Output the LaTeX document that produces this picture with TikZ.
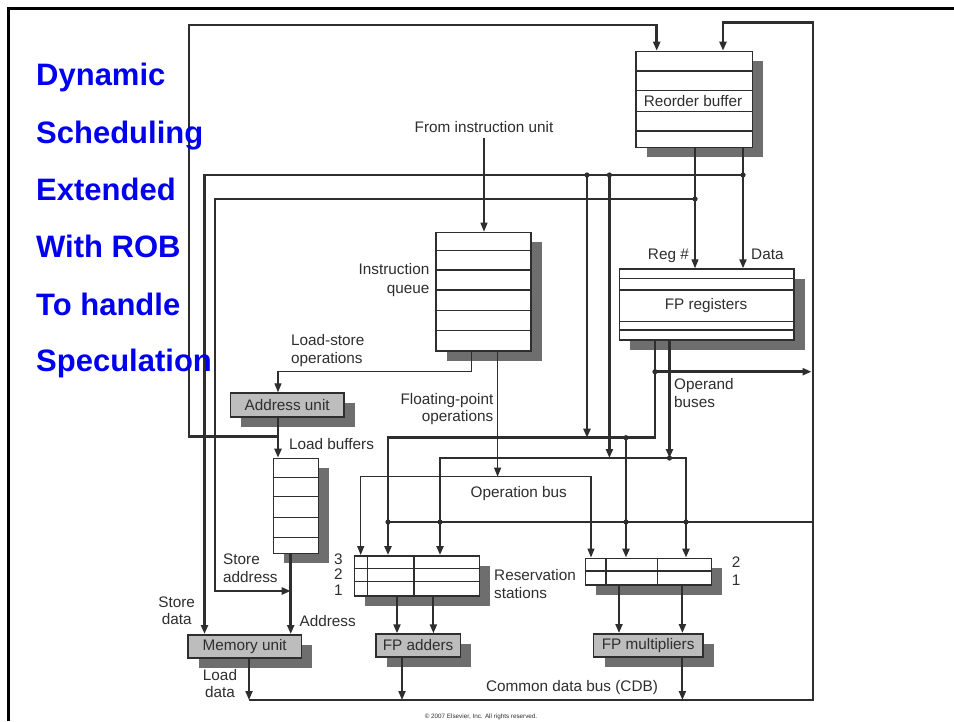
\documentclass[tikz,border=0pt]{standalone}
\usepackage{fontspec}
\setmainfont{Liberation Sans}
\usetikzlibrary{arrows.meta,shadows}
\definecolor{ink}{HTML}{2E2E2E}
\definecolor{shade}{HTML}{6E6E6E}
\definecolor{unitgray}{HTML}{BDBDBD}
\definecolor{titleblue}{RGB}{0,0,238}
\begin{document}
\begin{tikzpicture}[x=1pt,y=-1pt,
  >={Triangle[length=9pt,width=7pt]},
  lbl/.style={font=\fontsize{15.3}{17}\selectfont, text=ink, inner sep=0pt},
  tiny/.style={font=\fontsize{6.3}{7}\selectfont, text=ink, inner sep=0pt},
  title/.style={font=\fontsize{31}{34}\selectfont\bfseries, text=titleblue, inner sep=0pt, anchor=base west},
  buf/.style={draw=ink, line width=1.5pt, fill=white, inner sep=0pt, anchor=north west,
    general shadow={fill=shade, shadow xshift=11pt, shadow yshift=-10pt}},
  unit/.style={buf, fill=unitgray, lbl},
  row/.style={draw=ink, line width=1.3pt},
  bus/.style={draw=ink, line width=2.7pt},
  link/.style={draw=ink, line width=2pt},
  wire/.style={draw=ink, line width=1.2pt},
  dot/.style={fill=ink}]
\useasboundingbox (0,0) rectangle (954,721);
\fill[white] (0,0) rectangle (954,721);

% slide frame
\draw[line width=3pt, black] (8.5,721) -- (8.5,8.5) -- (954,8.5);

% ---------------- storage blocks ----------------
\node[buf, minimum width=116.5pt, minimum height=96pt] (rob) at (635,50.7) {};
\foreach \yy in {71,90.7,111.7,131} \draw[row] (635,\yy) -- (751.5,\yy);
\node[lbl, anchor=base] (robtxt) at (693,106) {Reorder buffer};

\node[buf, minimum width=95pt, minimum height=118.3pt] (iq) at (435,231.7) {};
\foreach \yy in {250.7,270,290,310.7,330.7} \draw[row] (435,\yy) -- (530,\yy);

\node[buf, minimum width=174.8pt, minimum height=71pt] (fpreg) at (618.5,268.3) {};
\foreach \yy in {278.3,290,321.7,330} \draw[row] (618.5,\yy) -- (793.3,\yy);
\node[lbl, anchor=base] (fptxt) at (706,309) {FP registers};

\node[buf, minimum width=45pt, minimum height=95pt] (lbuf) at (272.5,457.7) {};
\foreach \yy in {477.3,496.7,517.3,537.3} \draw[row] (272.5,\yy) -- (317.5,\yy);

\node[buf, minimum width=125pt, minimum height=40pt] (rsl) at (353.5,555) {};
\foreach \yy in {568.3,581.7} \draw[row] (353.5,\yy) -- (478.5,\yy);
\foreach \xx in {367.5,414} \draw[row] (\xx,555) -- (\xx,595);

\node[buf, minimum width=126pt, minimum height=26.5pt] (rsr) at (584.5,557.5) {};
\draw[row] (584.5,571) -- (710.5,571);
\foreach \xx in {606,657.5} \draw[row] (\xx,557.5) -- (\xx,584);

% ---------------- functional units ----------------
\node[unit, minimum width=113.8pt, minimum height=23.7pt] (aunit) at (229.5,392.3) {Address unit};
\node[unit, minimum width=113.7pt, minimum height=23.3pt] (memu) at (187,634) {Memory unit};
\node[unit, minimum width=84.7pt, minimum height=22.7pt] (fpa) at (375,633.3) {FP adders};
\node[unit, minimum width=109.2pt, minimum height=23pt] (fpm) at (592.8,633) {FP multipliers};

% ---------------- junctions ----------------
\coordinate (ldjoin) at (278,436.5);
\coordinate (datac) at (743,175);
\coordinate (regnum) at (695,199);
\coordinate (sdata) at (204.5,175);
\coordinate (saddr) at (215,199);
\coordinate (addrx) at (290.7,591);
\coordinate (c1) at (587,175);
\coordinate (c2) at (609.4,175);
\coordinate (ob1) at (655,437.7);
\coordinate (ob2) at (669.5,458);
\coordinate (opnd) at (655,371.7);
\coordinate (k1) at (388,522);
\coordinate (k2) at (440,522);
\coordinate (k3) at (626,522);
\coordinate (k4) at (686,522);
\coordinate (cdbL) at (249,700);
\coordinate (cdbR) at (813,700);
\coordinate (rtop) at (813,22.7);
\coordinate (opbusL) at (360.7,476.7);
\coordinate (opbusR) at (591,476.7);

% ---------------- connections ----------------
% load buffer results back to the reorder buffer
\draw[bus,->] (ldjoin) -| (189,25) -| ([xshift=21.7pt]rob.north west);
% common data bus, around to the reorder buffer
\draw[bus,->] (cdbL) -- (cdbR) -- (rtop) -| ([xshift=88pt]rob.north west);
% common data bus into the reservation stations
\draw[bus] (cdbR |- k1) -- (k1);

% reorder buffer to registers
\draw[wire,->] (rob.south -| regnum) -- (fpreg.north -| regnum);
\draw[link,->] (rob.south -| datac) -- (fpreg.north -| datac);
\draw[bus,->] (datac) -- (sdata) -- (memu.north -| sdata);
\draw[bus,->] (regnum) -- (saddr) |- (addrx);
\draw[bus,->] (c1) -- (c1 |- ob1);
\draw[bus,->] (c2) -- (c2 |- ob2);

% instruction path
\node[lbl, anchor=base] (iutxt) at (484,132) {From instruction unit};
\draw[wire,->] ([yshift=-6pt]iutxt.south) -- (iutxt.south |- iq.north);
\draw[wire,->] ([xshift=36.8pt]iq.south west) |- (278,371.7) -- (aunit.north -| ldjoin);
\draw[wire,->] ([xshift=62.6pt]iq.south west) -- ([xshift=62.6pt]iq.south west |- opbusL);
\draw[wire,<->] (rsl.north -| opbusL) |- (opbusR) -- (rsr.north -| opbusR);

% load / store path
\draw[bus,->] (aunit.south -| ldjoin) -- (lbuf.north -| ldjoin);
\draw[bus,->] (lbuf.south -| addrx) -- (memu.north -| addrx);
\draw[link,->] (memu.south -| cdbL) -- (cdbL);

% operand buses
\draw[bus,->] (fpreg.south -| ob1) -- (ob1) -| (rsl.north -| k1);
\draw[bus,->] (ob1 -| k3) -- (rsr.north -| k3);
\draw[bus,->] (fpreg.south -| ob2) -- (ob2);
\draw[bus,<->] (rsl.north -| k2) |- (k4 |- ob2) -- (rsr.north -| k4);
\draw[bus,->] (opnd) -- ([xshift=-1.5pt]rtop |- opnd);

% stations to units, units to the CDB
\draw[link,->] ([xshift=43.5pt]rsl.south west) -- ([xshift=43.5pt]rsl.south west |- fpa.north);
\draw[link,->] ([xshift=79.9pt]rsl.south west) -- ([xshift=79.9pt]rsl.south west |- fpa.north);
\draw[link,->] ([xshift=34.5pt]rsr.south west) -- ([xshift=34.5pt]rsr.south west |- fpm.north);
\draw[link,->] ([xshift=97.9pt]rsr.south west) -- ([xshift=97.9pt]rsr.south west |- fpm.north);
\draw[link,->] ([xshift=27pt]fpa.south west) -- ([xshift=27pt]fpa.south west |- cdbL);
\draw[link,->] ([xshift=89.6pt]fpm.south west) -- ([xshift=89.6pt]fpm.south west |- cdbL);

% junction dots
\foreach \p in {c1,c2,datac,regnum,opnd,ob2,k1,k2,k3,k4}
  \fill[dot] (\p) circle (2.6);
\fill[dot] (ob1 -| k3) circle (2.6);

% ---------------- labels ----------------
\node[lbl, anchor=base east] (regl) at (689,259) {Reg \#};
\node[lbl, anchor=base west] (datal) at (751,259) {Data};
\node[lbl, anchor=base east] (iql1) at (429.5,274) {Instruction};
\node[lbl, anchor=base east] (iql2) at (429.5,293) {queue};
\node[lbl, anchor=base west] (lsl1) at (291,345.5) {Load-store};
\node[lbl, anchor=base west] (lsl2) at (291,363.5) {operations};
\node[lbl, anchor=base east] (fol1) at (493.5,404) {Floating-point};
\node[lbl, anchor=base east] (fol2) at (493.5,421.5) {operations};
\node[lbl, anchor=base west] (obl1) at (674,389) {Operand};
\node[lbl, anchor=base west] (obl2) at (674,407) {buses};
\node[lbl, anchor=base west] (lbl) at (289,449) {Load buffers};
\node[lbl, anchor=base] (opbl) at (518.8,497) {Operation bus};
\node[lbl, anchor=base] (n3) at (338.3,564.5) {3};
\node[lbl, anchor=base] (n2) at (338.3,579.5) {2};
\node[lbl, anchor=base] (n1) at (338.3,595) {1};
\node[lbl, anchor=base west] (rsl1) at (494,580) {Reservation};
\node[lbl, anchor=base west] (rsl2) at (494,598) {stations};
\node[lbl, anchor=base] (m2) at (736,567) {2};
\node[lbl, anchor=base] (m1) at (736,585.5) {1};
\node[lbl, anchor=base west] (sal1) at (223,564.5) {Store};
\node[lbl, anchor=base west] (sal2) at (223,582.5) {address};
\node[lbl, anchor=base] (sdl1) at (176.7,607) {Store};
\node[lbl, anchor=base] (sdl2) at (176.7,624.5) {data};
\node[lbl, anchor=base west] (adl) at (299.4,626) {Address};
\node[lbl, anchor=base] (ldl1) at (220,680.5) {Load};
\node[lbl, anchor=base] (ldl2) at (220,697.5) {data};
\node[lbl, anchor=base] (cdbl) at (572,691) {Common data bus (CDB)};
\node[tiny, anchor=base] (copy) at (481,718) {© 2007 Elsevier, Inc. All rights reserved.};

% ---------------- slide title ----------------
\node[title] (t1) at (36,85) {Dynamic};
\node[title] (t2) at (36,143.3) {Scheduling};
\node[title] (t3) at (36,200) {Extended};
\node[title] (t4) at (36,257.7) {With ROB};
\node[title] (t5) at (36,315) {To handle};
\node[title] (t6) at (36,371.7) {Speculation};
\end{tikzpicture}
\end{document}
